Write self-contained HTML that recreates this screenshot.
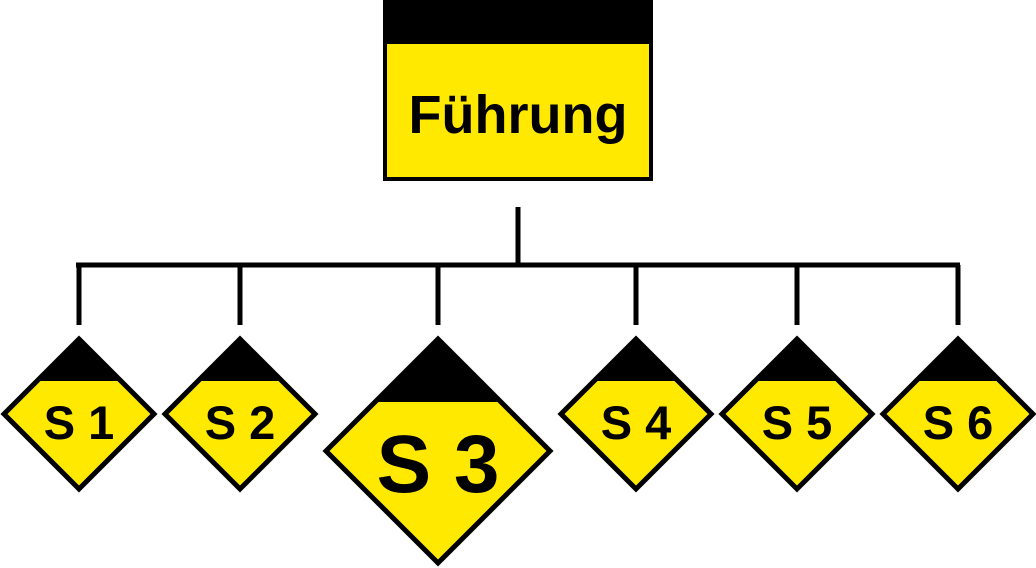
<!DOCTYPE html>
<html><head><meta charset="utf-8"><style>html,body{margin:0;padding:0;background:#fff}svg{display:block}</style></head>
<body>
<svg width="1036" height="568" viewBox="0 0 1036 568" xmlns="http://www.w3.org/2000/svg" font-family="Liberation Sans, sans-serif" font-weight="bold">
<rect x="385" y="2" width="266" height="177" fill="#FFE900" stroke="#000" stroke-width="4"/>
<rect x="383" y="0" width="270" height="44" fill="#000"/>
<text x="518" y="133" font-size="54" text-anchor="middle">Führung</text>
<g stroke="#000" stroke-width="5" fill="none">
<line x1="518" y1="207" x2="518" y2="266"/>
<line x1="76" y1="265" x2="960" y2="265"/>
<line x1="79" y1="265" x2="79" y2="325"/>
<line x1="240" y1="265" x2="240" y2="325"/>
<line x1="438" y1="265" x2="438" y2="325"/>
<line x1="636" y1="265" x2="636" y2="325"/>
<line x1="797" y1="265" x2="797" y2="325"/>
<line x1="958" y1="265" x2="958" y2="325"/>
</g>
<defs>
<g id="d">
<polygon points="0,-75 75,0 0,75 -75,0" fill="#FFE900"/>
<polygon points="0,-75 42,-33 -42,-33" fill="#000"/>
<polygon points="0,-75 75,0 0,75 -75,0" fill="none" stroke="#000" stroke-width="5"/>
</g>
</defs>
<use href="#d" x="79" y="414"/>
<use href="#d" x="240" y="414"/>
<use href="#d" x="636" y="414"/>
<use href="#d" x="797" y="414"/>
<use href="#d" x="958" y="414"/>
<g transform="translate(438,451)">
<polygon points="0,-112 112,0 0,112 -112,0" fill="#FFE900"/>
<polygon points="0,-112 63,-49 -63,-49" fill="#000"/>
<polygon points="0,-112 112,0 0,112 -112,0" fill="none" stroke="#000" stroke-width="5"/>
</g>
<g font-size="47" text-anchor="middle">
<text x="79" y="439">S 1</text>
<text x="240" y="439">S 2</text>
<text x="636" y="439">S 4</text>
<text x="797" y="439">S 5</text>
<text x="958" y="439">S 6</text>
</g>
<text x="438" y="492" font-size="82" text-anchor="middle">S 3</text>
</svg>
</body></html>
